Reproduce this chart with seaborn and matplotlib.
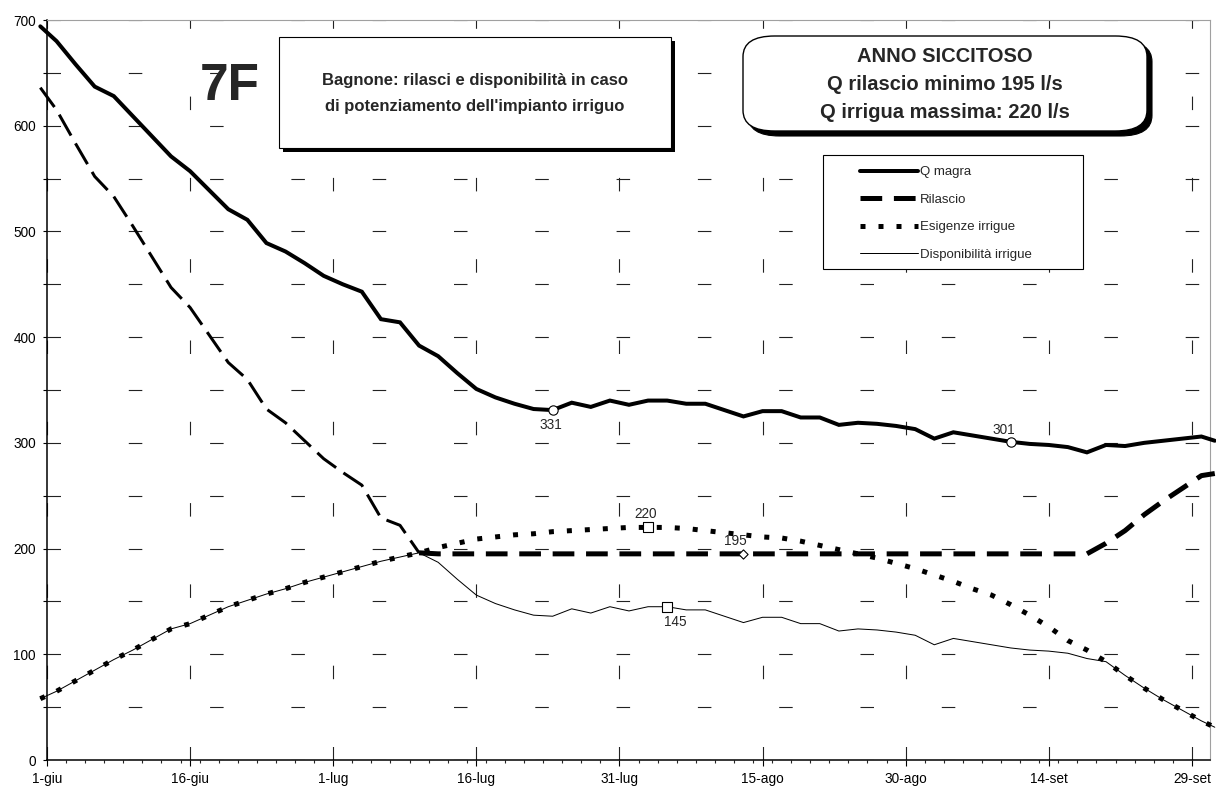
import numpy as np
import pandas as pd
import matplotlib
matplotlib.use("Agg")
import matplotlib.pyplot as plt
import seaborn as sns
from matplotlib.patches import Rectangle, FancyBboxPatch

days = [-0.7, 1, 3, 5, 7, 9, 11, 13, 15, 17, 19, 21, 23, 25, 27, 29, 31, 33, 35, 37,
        39, 41, 43, 45, 47, 49, 51, 53, 55, 57, 59, 61, 63, 65, 67, 69, 71, 73, 75, 77,
        79, 81, 83, 85, 87, 89, 91, 93, 95, 97, 99, 101, 103, 105, 107, 109, 111, 113,
        115, 117, 119, 121, 122.4]

q_magra = [694, 680, 658, 637, 628, 609, 590, 571, 557, 539, 521, 511, 489, 481, 470,
           458, 450, 443, 417, 414, 392, 382, 366, 351, 343, 337, 332, 331, 338, 334,
           340, 336, 340, 340, 337, 337, 331, 325, 330, 330, 324, 324, 317, 319, 318,
           316, 313, 304, 310, 307, 304, 301, 299, 298, 296, 291, 298, 297, 300, 302,
           304, 306, 302]

rilascio = [636, 615, 583, 552, 533, 505, 476, 447, 428, 402, 376, 360, 332, 319, 302,
            285, 272, 260, 229, 222, 196, 195, 195, 195, 195, 195, 195, 195, 195, 195,
            195, 195, 195, 195, 195, 195, 195, 195, 195, 195, 195, 195, 195, 195, 195,
            195, 195, 195, 195, 195, 195, 195, 195, 195, 195, 195, 205, 217, 232, 245,
            257, 269, 271]

esigenze = [58, 65, 75, 85, 95, 104, 114, 124, 129, 137, 145, 151, 157, 162, 168,
            173, 178, 183, 188, 192, 196, 201, 205, 209, 211, 213, 214, 216, 217, 218,
            219, 220, 220, 220, 219, 217, 215, 213, 211, 210, 207, 203, 199, 195, 191,
            186, 181, 175, 169, 162, 156, 147, 137, 126, 113, 104, 93, 80, 68, 57,
            47, 37, 31]

disponibilita = [58, 65, 75, 85, 95, 104, 114, 124, 129, 137, 145, 151, 157, 162, 168,
                 173, 178, 183, 188, 192, 196, 187, 171, 156, 148, 142, 137, 136, 143, 139,
                 145, 141, 145, 145, 142, 142, 136, 130, 135, 135, 129, 129, 122, 124, 123,
                 121, 118, 109, 115, 112, 109, 106, 104, 103, 101, 96, 93, 80, 68, 57,
                 47, 37, 31]

tick_days = [0, 15, 30, 45, 60, 75, 90, 105, 120]
tick_labels = ["1-giu", "16-giu", "1-lug", "16-lug", "31-lug", "15-ago", "30-ago",
               "14-set", "29-set"]

# callouts: which series, which day
mark_series = ["Q magra", "Q magra", "Esigenze irrigue", "Rilascio", "Disponibilità irrigue"]
mark_days = [53, 101, 63, 73, 65]

df = pd.DataFrame({"giorno": days, "Q magra": q_magra, "Rilascio": rilascio,
                   "Esigenze irrigue": esigenze, "Disponibilità irrigue": disponibilita})

# ---- style ----
sns.set_style("white")
plt.rcParams["font.family"] = ["Liberation Sans", "DejaVu Sans"]
plt.rcParams["lines.scale_dashes"] = False

W, H = 1216, 793
PX = 0.72  # points per pixel at dpi 100


def fx(x):
    return x / W


def fy(y):
    return 1 - y / H


fig = plt.figure(figsize=(W / 100, H / 100), dpi=100)
ax = fig.add_axes([fx(47), fy(760), (1210 - 47) / W, (760 - 20) / H])

styles = {
    "Disponibilità irrigue": dict(linewidth=1.0 * PX, linestyle="-", zorder=3),
    "Esigenze irrigue": dict(linewidth=5 * PX, linestyle=(0, (5 * PX, 13 * PX)), zorder=4),
    "Rilascio": dict(linewidth=5 * PX, linestyle=(0, (21.7 * PX, 11.7 * PX)), zorder=4),
    "Q magra": dict(linewidth=4 * PX, linestyle="-", zorder=5),
}
lines = {}
for name in ["Disponibilità irrigue", "Esigenze irrigue", "Rilascio", "Q magra"]:
    sub = df
    if name == "Rilascio":
        # the falling stretch before the minimum release is drawn lighter in the original
        early = df[df["giorno"] <= 39]
        sns.lineplot(data=early, x="giorno", y=name, ax=ax, color="black", clip_on=False,
                     dash_capstyle="butt", linewidth=3 * PX,
                     linestyle=(0, (24 * PX, 9 * PX)), zorder=4)
        sub = df[df["giorno"] >= 39]
    sns.lineplot(data=sub, x="giorno", y=name, ax=ax, color="black", clip_on=False,
                 dash_capstyle="butt", solid_joinstyle="miter", **styles[name])
    lines[name] = ax.lines[-1]

# callout markers and values
shapes = {"Q magra": "o", "Esigenze irrigue": "s", "Rilascio": "D", "Disponibilità irrigue": "s"}
sizes = {"Q magra": 45, "Esigenze irrigue": 50, "Rilascio": 22, "Disponibilità irrigue": 55}
offsets = [(-2, -15), (-7, 12), (-2, 13), (-8, 13), (8, -15)]  # pixels, up positive
for (name, d, off) in zip(mark_series, mark_days, offsets):
    v = df.loc[df["giorno"] == d, name].iloc[0]
    sns.scatterplot(x=[d], y=[v], ax=ax, marker=shapes[name], s=sizes[name], color="white",
                    edgecolor="black", linewidth=0.8, zorder=7, clip_on=False)
    ax.annotate(f"{v:.0f}", (d, v), xytext=(off[0] * PX, off[1] * PX),
                textcoords="offset points", ha="center", va="center", fontsize=9.8, zorder=8)

# ---- axes ----
ax.set_xlim(0, 121.9)
ax.set_ylim(0, 700)
ax.set_xlabel("")
ax.set_ylabel("")
ax.set_xticks(tick_days)
ax.set_xticklabels(tick_labels)
ax.set_xticks(np.arange(0, 122, 2), minor=True)
ax.set_yticks(np.arange(0, 701, 100))
ax.set_yticks(np.arange(50, 701, 100), minor=True)

grid_ls = (0, (13.5 * PX, 67.8 * PX))
ax.grid(True, axis="y", which="both", color="#222222", linewidth=0.8, linestyle=grid_ls)
ax.grid(True, axis="x", which="major", color="#222222", linewidth=0.8, linestyle=grid_ls)
ax.set_axisbelow(True)

ax.tick_params(axis="x", which="major", direction="out", length=4.3, width=0.8, pad=4,
               labelsize=9.8, colors="black", bottom=True)
ax.tick_params(axis="x", which="minor", direction="out", length=2.4, width=0.8, bottom=True)
ax.tick_params(axis="y", which="both", direction="out", length=3, width=0.8, pad=5,
               labelsize=9.8, colors="black", left=True)
for s in ["left", "bottom"]:
    ax.spines[s].set_color("black")
    ax.spines[s].set_linewidth(1.1)
for s in ["top", "right"]:
    ax.spines[s].set_color("#a0a0a0")
    ax.spines[s].set_linewidth(0.8)

# ---- title boxes ----
fig.text(fx(230), fy(86), "7F", fontsize=37, fontweight="bold", ha="center", va="center")

fig.add_artist(Rectangle((fx(283), fy(152)), (671 - 279) / W, (148 - 37) / H,
                         transform=fig.transFigure, facecolor="black", edgecolor="none", zorder=9))
fig.add_artist(Rectangle((fx(279), fy(148)), (671 - 279) / W, (148 - 37) / H,
                         transform=fig.transFigure, facecolor="white", edgecolor="black",
                         linewidth=0.8, zorder=10))
fig.text(fx(475), fy(80), "Bagnone: rilasci e disponibilità in caso", fontsize=12,
         fontweight="bold", ha="center", va="center", zorder=11)
fig.text(fx(475), fy(106), "di potenziamento dell'impianto irriguo", fontsize=12,
         fontweight="bold", ha="center", va="center", zorder=11)

rb = dict(boxstyle="round,pad=0,rounding_size=0.026", transform=fig.transFigure, zorder=9)
fig.add_artist(FancyBboxPatch((fx(748), fy(136)), (1147 - 743) / W, (131 - 36) / H,
                              facecolor="black", edgecolor="black", linewidth=0.8, **rb))
rb["zorder"] = 10
fig.add_artist(FancyBboxPatch((fx(743), fy(131)), (1147 - 743) / W, (131 - 36) / H,
                              facecolor="white", edgecolor="black", linewidth=1.0, **rb))
for txt, yy in [("ANNO SICCITOSO", 57), ("Q rilascio minimo 195 l/s", 85),
                ("Q irrigua massima: 220 l/s", 113)]:
    fig.text(fx(945), fy(yy), txt, fontsize=14.5, fontweight="bold", ha="center",
             va="center", zorder=11)

# ---- legend ----
fig.add_artist(Rectangle((fx(823), fy(269)), (1083 - 823) / W, (269 - 155) / H,
                         transform=fig.transFigure, facecolor="white", edgecolor="black",
                         linewidth=0.8, zorder=10))
order = ["Q magra", "Rilascio", "Esigenze irrigue", "Disponibilità irrigue"]
leg = fig.legend([lines[n] for n in order], order, loc="upper left",
                 bbox_to_anchor=(fx(860), fy(166)), frameon=False, fontsize=9.5,
                 handlelength=4.4, handletextpad=0.15, labelspacing=1.16,
                 borderpad=0, borderaxespad=0)
leg.set_zorder(11)

fig.savefig("out.png", dpi=100)
